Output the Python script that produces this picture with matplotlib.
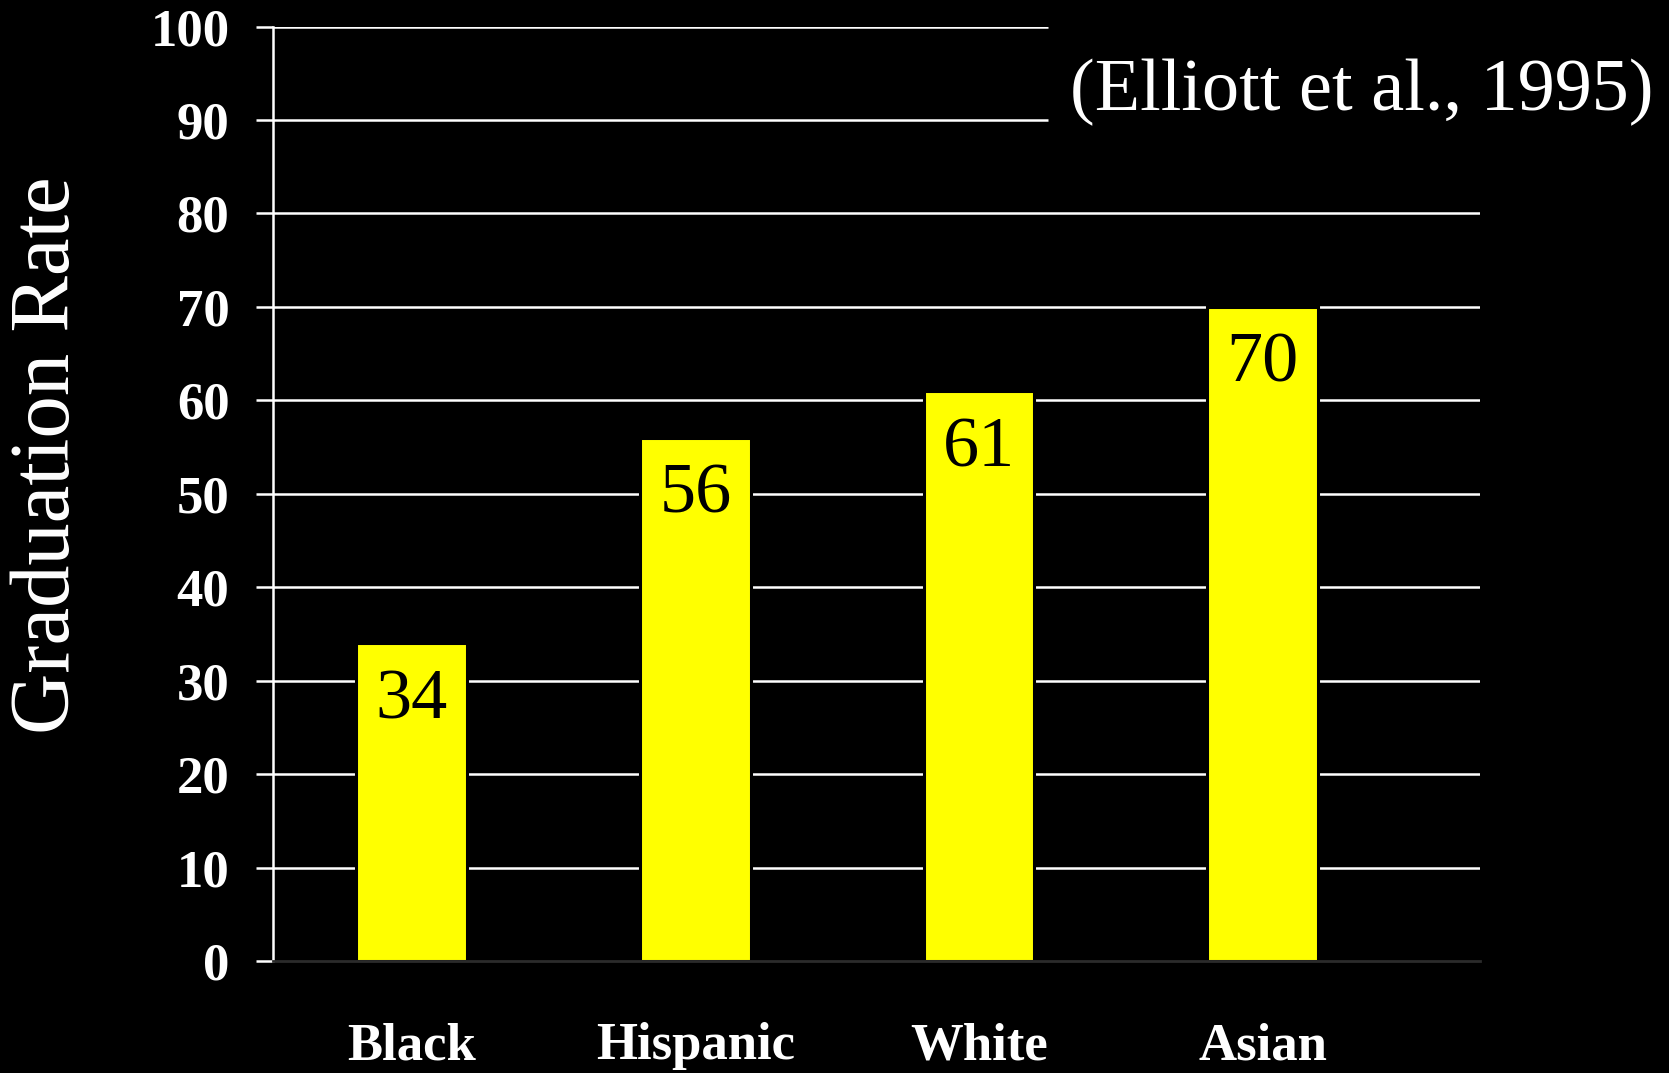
import matplotlib
matplotlib.use("Agg")
import matplotlib.pyplot as plt

# data
groups = ["Black", "Hispanic", "White", "Asian"]
grad_rates = [34, 56, 61, 70]
y_ticks = [0, 10, 20, 30, 40, 50, 60, 70, 80, 90, 100]
citation = "(Elliott et al., 1995)"

plt.rcParams["font.family"] = ["Liberation Serif", "DejaVu Serif"]

fig = plt.figure(figsize=(16.69, 10.73), dpi=100, facecolor="black")
ax = fig.add_axes([0.1633, 0.1044, 0.7232, 0.8708])
ax.set_facecolor("black")

x_pos = list(range(len(groups)))
ax.set_xlim(-0.49, 3.764)
ax.set_ylim(0, 100)

# gridlines; the top two stop short where the citation sits
cite_gap_x = 2.244
for yv in y_ticks[1:]:
    x_end = cite_gap_x if yv >= 90 else ax.get_xlim()[1]
    ax.hlines(yv, ax.get_xlim()[0], x_end, color="white", linewidth=1.8, zorder=1)

bars = ax.bar(x_pos, grad_rates, width=0.39, color="#ffff00",
              edgecolor="black", linewidth=2.2, zorder=2)

for xv, val in zip(x_pos, grad_rates):
    ax.annotate(str(val), xy=(xv, val), xytext=(0, -54), textcoords="offset points",
                ha="center", va="baseline", fontsize=52, color="black", zorder=3)

# spines / ticks
for side in ["top", "right"]:
    ax.spines[side].set_visible(False)
ax.spines["left"].set_color("white")
ax.spines["left"].set_linewidth(1.8)
ax.spines["bottom"].set_color("#2b2b2b")
ax.spines["bottom"].set_linewidth(2.0)

ax.set_yticks(y_ticks)
ax.set_yticklabels([str(v) for v in y_ticks], fontsize=38, fontweight="bold", color="white")
ax.tick_params(axis="y", colors="white", length=12, width=1.8, pad=19, direction="out")

ax.set_xticks(x_pos)
ax.set_xticklabels(groups, fontsize=38, fontweight="bold", color="white")
ax.tick_params(axis="x", length=0, pad=44)
ax.set_xticks([0.5, 1.5, 2.5, 3.5], minor=True)
ax.tick_params(axis="x", which="minor", length=5, width=2.5, color="black", direction="inout")

fig.text(48 / 1669, 1 - 455 / 1073, "Graduation Rate", rotation=90, ha="center", va="center",
         fontsize=61, color="white")

fig.text(1653 / 1669, 1 - 110 / 1073, citation, ha="right", va="baseline",
         fontsize=53.5, color="white")

fig.savefig("out.png", dpi=100, facecolor="black")
